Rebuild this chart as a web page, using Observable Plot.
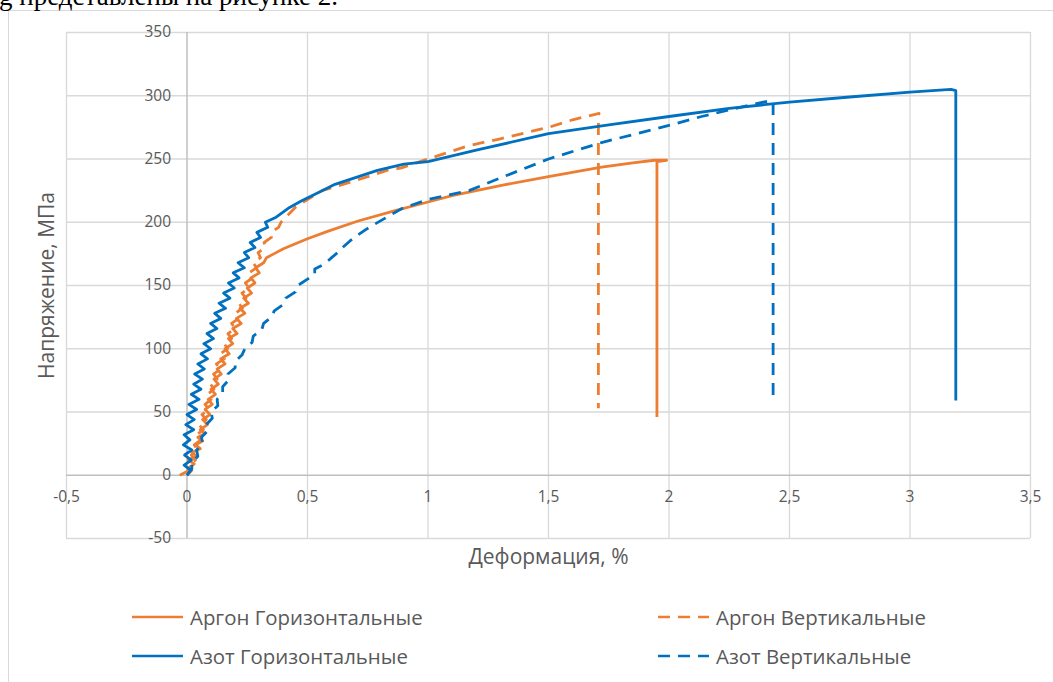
<!DOCTYPE html>
<html>
<head>
<meta charset="utf-8">
<script src="https://cdn.jsdelivr.net/npm/d3@7"></script>
<script src="https://cdn.jsdelivr.net/npm/@observablehq/plot@0.6"></script>
<style>
  html, body { margin: 0; padding: 0; background: #fff; overflow: hidden; }
  #page { position: relative; width: 1053px; height: 682px; overflow: hidden; font-family: "Open Sans", sans-serif; }
  #doctext { position: absolute; left: -1px; top: -17px; font-family: "Liberation Serif", "Times New Roman", serif; font-size: 27px; line-height: 27px; color: #000; white-space: nowrap; }
  #frame { position: absolute; left: 8px; top: 10px; width: 1100px; height: 700px; border-left: 1.5px solid #d9d9d9; border-top: 1.5px solid #d9d9d9; }
  #chart { position: absolute; left: 0; top: 0; }
  .leg { position: absolute; display: flex; align-items: center; color: #595959; font-size: 20.4px; white-space: nowrap; }
  .leg svg { margin-right: 7px; }
</style>
</head>
<body>
<div id="page">
  <div id="frame"></div>
  <div id="doctext">g представлены на рисунке 2.</div>
  <div id="chart"></div>
</div>
<script>
// ---- Data ----
const seriesNames = ["Аргон Горизонтальные", "Аргон Вертикальные", "Азот Горизонтальные", "Азот Вертикальные"];
const seriesColors = ["#ED7D31", "#ED7D31", "#0070C0", "#0070C0"];
const seriesDash = [null, "12,8", null, "12,8"];

// Аргон Горизонтальные (strain %, stress MPa)
const argonHorX = [-0.03, 0.0, 0.01, 0.03, 0.005, 0.04, 0.02, 0.055, 0.035, 0.065, 0.045, 0.075, 0.055, 0.085, 0.065, 0.095, 0.075, 0.105, 0.088, 0.118, 0.1, 0.13, 0.112, 0.142, 0.125, 0.158, 0.14, 0.175, 0.158, 0.19, 0.172, 0.208, 0.19, 0.225, 0.205, 0.24, 0.22, 0.255, 0.235, 0.268, 0.25, 0.282, 0.265, 0.3, 0.285, 0.318, 0.33, 0.36, 0.40, 0.45, 0.50, 0.586, 0.71, 0.86, 1.00, 1.10, 1.30, 1.50, 1.72, 1.85, 1.94, 1.99, 1.95, 1.95];
const argonHorY = [0, 3, 6, 9, 12, 15, 18, 21, 24, 27, 30, 33, 36, 40, 44, 48, 52, 56, 60, 64, 68, 72, 76, 80, 84, 88, 92, 96, 100, 104, 108, 112, 116, 120, 124, 128, 132, 136, 140, 144, 148, 152, 156, 160, 164, 168, 172, 175, 179, 183, 187, 193, 201, 209, 216, 221, 229, 236, 243.5, 247, 249, 249, 248, 46];

// Аргон Вертикальные
const argonVerX = [0.0, 0.02, 0.005, 0.035, 0.018, 0.045, 0.03, 0.058, 0.04, 0.068, 0.05, 0.08, 0.062, 0.092, 0.075, 0.1, 0.085, 0.112, 0.098, 0.125, 0.11, 0.14, 0.122, 0.155, 0.138, 0.168, 0.155, 0.185, 0.17, 0.2, 0.185, 0.215, 0.2, 0.23, 0.215, 0.245, 0.228, 0.258, 0.242, 0.272, 0.258, 0.288, 0.275, 0.305, 0.295, 0.325, 0.32, 0.35, 0.35, 0.38, 0.39, 0.45, 0.50, 0.56, 0.70, 0.83, 0.89, 1.00, 1.17, 1.30, 1.50, 1.60, 1.71, 1.707, 1.707];
const argonVerY = [0, 4, 8, 12, 16, 20, 24, 28, 32, 36, 40, 44, 48, 52, 56, 60, 64, 68, 72, 76, 80, 84, 88, 92, 96, 100, 104, 108, 112, 116, 120, 124, 128, 132, 136, 140, 144, 148, 152, 156, 160, 164, 168, 172, 176, 180, 184, 188, 192, 196, 200, 211.8, 218, 225, 233, 241, 243, 250, 260.6, 266, 275, 281, 286, 285, 53];

// Азот Горизонтальные
const azotHorX = [0.0, 0.015, -0.012, 0.018, -0.01, 0.02, -0.015, 0.012, -0.012, 0.028, -0.005, 0.03, 0.0, 0.04, 0.008, 0.05, 0.018, 0.058, 0.028, 0.064, 0.032, 0.072, 0.045, 0.085, 0.058, 0.098, 0.07, 0.11, 0.083, 0.124, 0.098, 0.14, 0.115, 0.16, 0.133, 0.178, 0.152, 0.196, 0.172, 0.216, 0.192, 0.238, 0.212, 0.256, 0.238, 0.282, 0.262, 0.305, 0.29, 0.335, 0.325, 0.37, 0.42, 0.476, 0.55, 0.614, 0.79, 0.90, 1.00, 1.20, 1.50, 1.75, 2.00, 2.25, 2.50, 2.75, 3.00, 3.17, 3.19, 3.19];
const azotHorY = [0, 4, 8, 12, 16, 20, 24, 28, 32, 36, 40, 44, 48, 52, 56, 60, 64, 68, 72, 76, 80, 84, 88, 92, 96, 100, 104, 108, 112, 116, 120, 124, 128, 132, 136, 140, 144, 148, 152, 156, 160, 164, 168, 172, 176, 180, 184, 188, 192, 196, 200, 204, 211, 217, 224, 230, 241, 246, 248, 257, 270, 277, 283.6, 290, 295, 299, 302.8, 305, 304, 59];

// Азот Вертикальные
const azotVerX = [0.0, 0.02, 0.02, 0.045, 0.04, 0.065, 0.06, 0.085, 0.08, 0.105, 0.1, 0.128, 0.125, 0.148, 0.148, 0.172, 0.17, 0.2, 0.2, 0.228, 0.24, 0.27, 0.275, 0.31, 0.318, 0.35, 0.362, 0.4, 0.41, 0.45, 0.46, 0.5, 0.53, 0.53, 0.57, 0.6, 0.625, 0.645, 0.675, 0.71, 0.74, 0.78, 0.89, 1.00, 1.17, 1.30, 1.50, 1.72, 2.00, 2.135, 2.30, 2.41, 2.43, 2.432, 2.432];
const azotVerY = [0, 5, 10, 15, 20, 25, 30, 35, 40, 45, 50, 55, 60, 65, 70, 75, 80, 85, 90, 95, 100, 105, 110, 115, 120, 125, 130, 135, 140, 145, 150, 155, 159, 163, 167, 172, 176, 180, 185, 190, 194, 198.6, 210.7, 218, 225, 235, 250, 263, 276.5, 283.6, 291, 295.7, 296, 295, 59];

// Axis ticks
const xTicks = [-0.5, 0, 0.5, 1, 1.5, 2, 2.5, 3, 3.5];
const xTickLabels = ["-0,5", "0", "0,5", "1", "1,5", "2", "2,5", "3", "3,5"];
const yTicks = [-50, 0, 50, 100, 150, 200, 250, 300, 350];
const yTickLabels = ["-50", "0", "50", "100", "150", "200", "250", "300", "350"];
const xTitle = "Деформация, %";
const yTitle = "Напряжение, МПа";

// ---- Build table ----
const seriesX = [argonHorX, argonVerX, azotHorX, azotVerX];
const seriesY = [argonHorY, argonVerY, azotHorY, azotVerY];
const table = [];
seriesNames.forEach((name, s) => {
  seriesX[s].forEach((x, i) => table.push({series: name, x, y: seriesY[s][i]}));
});

const gridColor = "#d9d9d9";
const axisColor = "#bfbfbf";
const labelColor = "#595959";

const lineMarks = seriesNames.map((name, s) =>
  Plot.line(table.filter(d => d.series === name), {
    x: "x", y: "y",
    stroke: seriesColors[s],
    strokeWidth: 2.8,
    strokeDasharray: seriesDash[s] || undefined,
    strokeLinecap: "butt",
    strokeLinejoin: "round"
  })
);

const chart = Plot.plot({
  width: 1053,
  height: 580,
  marginLeft: 66,
  marginRight: 23,
  marginTop: 32,
  marginBottom: 42,
  x: {domain: [-0.5, 3.5], axis: null},
  y: {domain: [-50, 350], axis: null},
  style: {fontFamily: "'Open Sans', sans-serif", background: "transparent", overflow: "visible"},
  marks: [
    Plot.ruleX(xTicks.filter(d => d !== 0), {stroke: gridColor, strokeWidth: 1.3, strokeOpacity: 1}),
    Plot.ruleY(yTicks.filter(d => d !== 0), {stroke: gridColor, strokeWidth: 1.3, strokeOpacity: 1}),
    Plot.ruleX([0], {stroke: axisColor, strokeWidth: 1.5, strokeOpacity: 1}),
    Plot.ruleY([0], {stroke: axisColor, strokeWidth: 1.5, strokeOpacity: 1}),
    Plot.text(yTicks, {x: 0, y: d => d, text: (d, i) => yTickLabels[i], textAnchor: "end", dx: -16, fill: labelColor, fontSize: 15.5}),
    Plot.text(xTicks, {x: d => d, y: 0, text: (d, i) => xTickLabels[i], dy: 22, fill: labelColor, fontSize: 15.5}),
    ...lineMarks,
    Plot.text([xTitle], {frameAnchor: "bottom", text: d => d, textAnchor: "middle", lineAnchor: "middle", dy: 19, fill: labelColor, fontSize: 21}),
    Plot.text([yTitle], {frameAnchor: "left", text: d => d, textAnchor: "middle", lineAnchor: "middle", rotate: -90, dx: -19, fill: labelColor, fontSize: 21})
  ]
});
document.getElementById("chart").appendChild(chart);

// ---- Legend ----
const legendPos = [
  {left: 132, cy: 617},
  {left: 658, cy: 617},
  {left: 132, cy: 656},
  {left: 658, cy: 656}
];
const page = document.getElementById("page");
seriesNames.forEach((name, s) => {
  const item = document.createElement("div");
  item.className = "leg";
  item.style.left = legendPos[s].left + "px";
  item.style.top = (legendPos[s].cy - 14) + "px";
  item.style.height = "28px";
  const ns = "http://www.w3.org/2000/svg";
  const sv = document.createElementNS(ns, "svg");
  sv.setAttribute("width", 51);
  sv.setAttribute("height", 10);
  const ln = document.createElementNS(ns, "line");
  ln.setAttribute("x1", 0); ln.setAttribute("x2", 51);
  ln.setAttribute("y1", 5); ln.setAttribute("y2", 5);
  ln.setAttribute("stroke", seriesColors[s]);
  ln.setAttribute("stroke-width", 2.6);
  if (seriesDash[s]) ln.setAttribute("stroke-dasharray", seriesDash[s]);
  sv.appendChild(ln);
  item.appendChild(sv);
  const t = document.createElement("span");
  t.textContent = name;
  item.appendChild(t);
  page.appendChild(item);
});
</script>
</body>
</html>
